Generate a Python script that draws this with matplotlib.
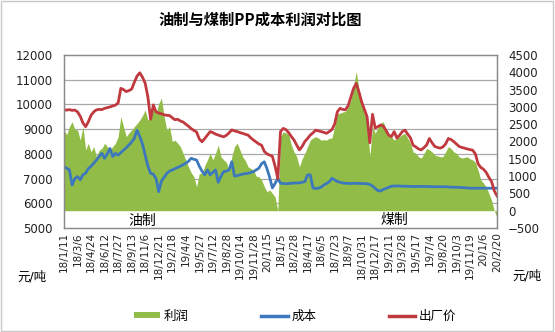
import matplotlib
matplotlib.use("Agg")
import matplotlib.pyplot as plt
import numpy as np
from matplotlib.transforms import blended_transform_factory
from matplotlib.patches import Patch, Rectangle
from matplotlib.lines import Line2D

plt.rcParams['font.family'] = ['DejaVu Sans', 'Noto Sans CJK SC']

# ---- data: oil-based PP (left block) and coal-based PP (right block), yuan/ton ----
labels_oil = ['18/1/11', '18/3/6', '18/4/24', '18/6/12', '18/7/27', '18/9/13', '18/11/6',
              '18/12/21', '19/2/18', '19/4/4', '19/5/27', '19/7/12', '19/8/28',
              '19/10/14', '19/11/28', '20/1/15']
labels_coal = ['18/1/5', '18/2/28', '18/4/17', '18/6/5', '18/7/23', '18/9/7', '18/10/31',
               '18/12/17', '19/2/11', '19/3/28', '19/5/17', '19/7/4', '19/8/20',
               '19/10/3', '19/11/19', '20/1/6', '20/2/20']

price_oil = [9780, 9770, 9790, 9760, 9770, 9700, 9520, 9250, 9100, 9300,
             9560, 9700, 9780, 9800, 9790, 9840, 9870, 9900, 9940, 9970,
             10060, 10650, 10600, 10520, 10560, 10620, 10900, 11150, 11280, 11100,
             10860, 10300, 9400, 9980, 9700, 9650, 9620, 9580, 9560, 9550,
             9460, 9380, 9400, 9330, 9290, 9200, 9120, 9020, 8950, 8880,
             8600, 8490, 8620, 8760, 8900, 8860, 8800, 8760, 8720, 8690,
             8750, 8850, 8970, 8930, 8900, 8860, 8830, 8790, 8760, 8650,
             8560, 8480, 8400, 8350, 8100, 8000, 7950, 7900, 7500, 7000]
cost_oil = [7480, 7420, 7350, 6740, 7000, 7080, 6950, 7150, 7220, 7400,
            7500, 7620, 7750, 7900, 8020, 7820, 8000, 8220, 7890, 8020,
            7950, 8050, 8150, 8250, 8360, 8480, 8630, 8960, 8700, 8400,
            7950, 7500, 7210, 7180, 7000, 6470, 6900, 7050, 7210, 7300,
            7350, 7400, 7450, 7500, 7560, 7620, 7700, 7820, 7780, 7750,
            7500, 7300, 7150, 7350, 7150, 7250, 7350, 6850, 7100, 7280,
            7300, 7350, 7680, 7100, 7120, 7150, 7180, 7200, 7210, 7250,
            7280, 7350, 7420, 7600, 7680, 7400, 7050, 6620, 6800, 7010]
profit_oil = [2330, 2200, 2430, 2570, 2350, 2330, 2040, 2430, 1760, 1950,
              1700, 1850, 1560, 1750, 1800, 1950, 1850, 1760, 1850, 1950,
              2140, 2720, 2430, 2140, 2250, 2330, 2430, 2520, 2620, 2750,
              2910, 2620, 2700, 3000, 2810, 3100, 3250, 2720, 2330, 2430,
              2000, 2040, 1950, 1850, 1660, 1470, 1270, 1100, 980, 690,
              1080, 1080, 1300, 1470, 1660, 1470, 1660, 1900, 1560, 1470,
              1400, 1180, 1560, 1850, 1950, 1760, 1560, 1450, 1270, 1220,
              1180, 1000, 980, 890, 700, 550, 600, 500, 400, 0]

price_coal = [8900, 9030, 8980, 8860, 8700, 8560, 8350, 8160, 8300, 8500,
              8620, 8760, 8850, 8960, 8930, 8900, 8870, 8830, 8900, 8980,
              9200, 9700, 9840, 9800, 9780, 9950, 10300, 10650, 10850, 10500,
              10100, 9800, 9500, 8450, 9600, 9050, 9100, 9170, 9120, 8950,
              8750, 8700, 8900, 8640, 8750, 8900, 8960, 8800, 8650, 8350,
              8280, 8200, 8160, 8250, 8360, 8620, 8450, 8300, 8260, 8230,
              8280, 8400, 8620, 8580, 8500, 8400, 8300, 8260, 8230, 8200,
              8170, 8150, 8000, 7600, 7450, 7380, 7250, 7050, 6880, 6500,
              6300]
cost_coal = [6810, 6800, 6790, 6800, 6810, 6820, 6820, 6830, 6850, 6880,
             7150, 7150, 6620, 6600, 6610, 6650, 6740, 6800, 6870, 7010,
             6950, 6880, 6850, 6820, 6810, 6800, 6800, 6810, 6810, 6800,
             6800, 6800, 6790, 6760, 6700, 6600, 6510, 6500, 6560, 6600,
             6650, 6690, 6700, 6700, 6700, 6690, 6690, 6690, 6680, 6680,
             6680, 6680, 6680, 6680, 6680, 6680, 6670, 6670, 6670, 6670,
             6670, 6670, 6660, 6650, 6650, 6650, 6640, 6640, 6630, 6620,
             6610, 6610, 6610, 6610, 6610, 6610, 6610, 6610, 6610, 6610,
             6610]
profit_coal = [2140, 2280, 2250, 2200, 1900, 1700, 1560, 1270, 1500, 1660,
               1850, 2040, 2100, 2140, 2100, 2040, 2050, 2040, 2090, 2100,
               2430, 2800, 2820, 2850, 2870, 3000, 3200, 3600, 4020, 3500,
               3150, 2800, 2620, 1560, 2430, 2240, 2400, 2530, 2570, 2330,
               2200, 2140, 2040, 2100, 2140, 2200, 2240, 2100, 1950, 1700,
               1660, 1560, 1520, 1650, 1800, 1760, 1700, 1610, 1580, 1560,
               1560, 1700, 1850, 1800, 1700, 1660, 1560, 1520, 1540, 1560,
               1500, 1470, 1400, 1180, 890, 800, 690, 500, 300, 0,
               -200]

# ---- styling ----
GREEN = '#92BC48'
BLUE = '#3D78BD'
RED = '#C0393F'
GRID = '#A8A8A8'
FRAME = '#8A8A8A'
LABEL_STEP = 5

price = np.array(price_oil + price_coal)
cost = np.array(cost_oil + cost_coal)
profit = np.array(profit_oil + profit_coal)
x = np.arange(len(price))

tick_pos = list(range(0, len(price_oil), LABEL_STEP)) + \
    list(range(len(price_oil), len(price), LABEL_STEP))
tick_lab = labels_oil + labels_coal

W, H = 555, 332
fig = plt.figure(figsize=(W / 100, H / 100), dpi=100)
ax = fig.add_axes([64 / W, 1 - 228 / H, 433 / W, 173 / H])
ax2 = ax.twinx()
ax.set_zorder(ax2.get_zorder() + 1)
ax.patch.set_visible(False)
ax2.patch.set_facecolor('white')

# profit area on the secondary axis
ax2.fill_between(x, 0, profit, color=GREEN, lw=0, zorder=1)
ax2.set_ylim(-500, 4500)
ax2.set_yticks(np.arange(-500, 4501, 500))

# cost and ex-factory price on the primary axis
ax.plot(x, cost, color=BLUE, lw=2.0, solid_joinstyle='round')
ax.plot(x, price, color=RED, lw=2.0, solid_joinstyle='round')
ax.set_ylim(5000, 12000)
ax.set_yticks(np.arange(5000, 12001, 1000))
ax.set_xlim(0, len(x) - 1)

# horizontal gridlines at the primary ticks, kept behind the area
gtr = blended_transform_factory(ax2.transAxes, ax.transData)
for v in range(6000, 12000, 1000):
    ax2.plot([0, 1], [v, v], transform=gtr, color=GRID, lw=0.9, zorder=0.5)

ax.set_xticks(tick_pos)
ax.set_xticklabels(tick_lab, rotation=90, fontsize=7.5)
ax.tick_params(axis='x', length=0, pad=3, colors='#222222')
ax.tick_params(axis='y', length=0, pad=8, labelsize=8.5, colors='#222222')
ax2.tick_params(axis='y', length=0, pad=8, labelsize=8.5, colors='#222222')
for a in (ax, ax2):
    for s in a.spines.values():
        s.set_color(FRAME)
        s.set_linewidth(0.9)

fig.text(260 / W, 1 - 20 / H, '油制与煤制PP成本利润对比图', ha='center', va='center',
         fontsize=11, fontweight='bold', family=['Noto Sans CJK SC'])
fig.text(142 / W, 1 - 221 / H, '油制', ha='center', va='center', fontsize=10)
fig.text(394 / W, 1 - 220 / H, '煤制', ha='center', va='center', fontsize=10)
fig.text(32 / W, 1 - 277 / H, '元/吨', ha='center', va='center', fontsize=9)
fig.text(527 / W, 1 - 276 / H, '元/吨', ha='center', va='center', fontsize=9)

handles = [Patch(facecolor=GREEN, edgecolor='none'),
           Line2D([], [], color=BLUE, lw=2.5),
           Line2D([], [], color=RED, lw=2.5)]
fig.legend(handles, ['利润', '成本', '出厂价'], loc='center',
           bbox_to_anchor=(295 / W, 1 - 316 / H), ncol=3, frameon=False,
           fontsize=9, handlelength=2.1, handleheight=0.45,
           columnspacing=5.8, handletextpad=0.3)

fig.patches.append(Rectangle((0.002, 0.003), 0.995, 0.994, transform=fig.transFigure,
                             fill=False, edgecolor='#C8C8C8', lw=1))

fig.savefig('out.png', dpi=100, facecolor='white')
